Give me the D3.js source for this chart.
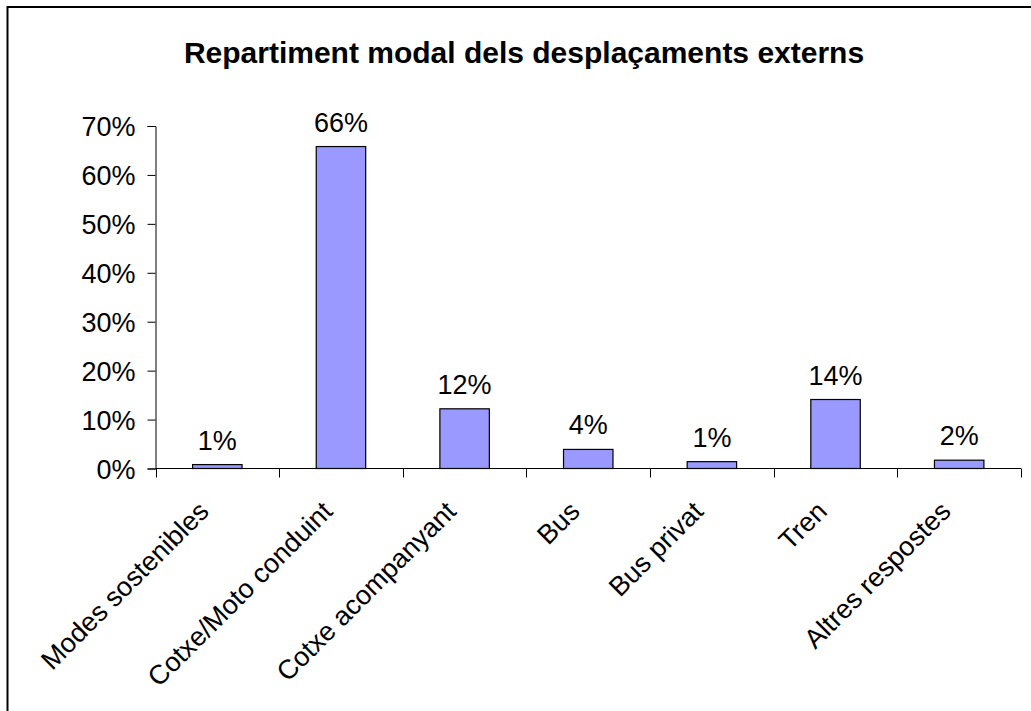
<!DOCTYPE html>
<html>
<head>
<meta charset="utf-8">
<script src="https://cdn.jsdelivr.net/npm/d3@7"></script>
<style>
  html, body { margin: 0; padding: 0; background: #fff; }
  svg { display: block; }
  text { font-family: "Liberation Sans", Arial, sans-serif; fill: #000; }
</style>
</head>
<body>
<svg id="chart" width="1031" height="711"></svg>
<script>
const title = "Repartiment modal dels desplaçaments externs";
const categories = ["Modes sostenibles", "Cotxe/Moto conduint", "Cotxe acompanyant", "Bus", "Bus privat", "Tren", "Altres respostes"];
const values = [0.008, 0.658, 0.122, 0.039, 0.014, 0.141, 0.017];
const valueLabels = ["1%", "66%", "12%", "4%", "1%", "14%", "2%"];
const yTicks = [0, 0.1, 0.2, 0.3, 0.4, 0.5, 0.6, 0.7];

const svg = d3.select("#chart");
const W = 1031, H = 711;
svg.append("rect").attr("width", W).attr("height", H).attr("fill", "#fff");

// outer frame (only left and top visible)
svg.append("rect").attr("x", 7.5).attr("y", 7).attr("width", 1100).attr("height", 1100)
  .attr("fill", "none").attr("stroke", "#000").attr("stroke-width", 2);

const plot = {left: 155.5, right: 1021, top: 126, bottom: 468.5};

const x = d3.scaleBand().domain(categories).range([plot.left, plot.right]).paddingInner(0).paddingOuter(0);
const y = d3.scaleLinear().domain([0, 0.7]).range([plot.bottom, plot.top]);

svg.append("text").attr("x", 524).attr("y", 63).attr("text-anchor", "middle")
  .style("font-size", "30px").style("font-weight", "bold").text(title);

// bars
const bw = x.bandwidth() * 0.4;
svg.append("g").selectAll("rect").data(categories).join("rect")
  .attr("x", d => x(d) + (x.bandwidth() - bw) / 2)
  .attr("y", (d, i) => y(values[i]))
  .attr("width", bw)
  .attr("height", (d, i) => y(0) - y(values[i]))
  .attr("fill", "#9999FF").attr("stroke", "#000").attr("stroke-width", 1.2);

// value labels
svg.append("g").selectAll("text").data(categories).join("text")
  .attr("x", d => x(d) + x.bandwidth() / 2)
  .attr("y", (d, i) => y(values[i]) - 15)
  .attr("text-anchor", "middle").style("font-size", "27px")
  .text((d, i) => valueLabels[i]);

// y axis
const yAxis = d3.axisLeft(y).tickValues(yTicks).tickFormat(d3.format(".0%")).tickSize(8).tickPadding(12);
const gy = svg.append("g").attr("transform", `translate(${plot.left},0)`).call(yAxis);
gy.select(".domain").attr("stroke", "#000");
gy.selectAll(".tick line").attr("stroke", "#000");
gy.selectAll(".tick text").style("font-size", "27px").attr("font-family", null).attr("dy", "0.36em");

// x axis: ticks at category boundaries
const bounds = categories.map(c => x(c)).concat([plot.right]);
svg.append("line").attr("x1", plot.left).attr("x2", plot.right).attr("y1", plot.bottom).attr("y2", plot.bottom)
  .attr("stroke", "#000");
svg.append("g").selectAll("line").data(bounds).join("line")
  .attr("x1", d => Math.round(d) + 0.5).attr("x2", d => Math.round(d) + 0.5)
  .attr("y1", plot.bottom).attr("y2", plot.bottom + 9).attr("stroke", "#000");

// x labels rotated
svg.append("g").selectAll("text").data(categories).join("text")
  .attr("transform", d => `translate(${x(d) + x.bandwidth() / 2 - 7},513) rotate(-45)`)
  .attr("text-anchor", "end").style("font-size", "27px")
  .text(d => d);
</script>
</body>
</html>
